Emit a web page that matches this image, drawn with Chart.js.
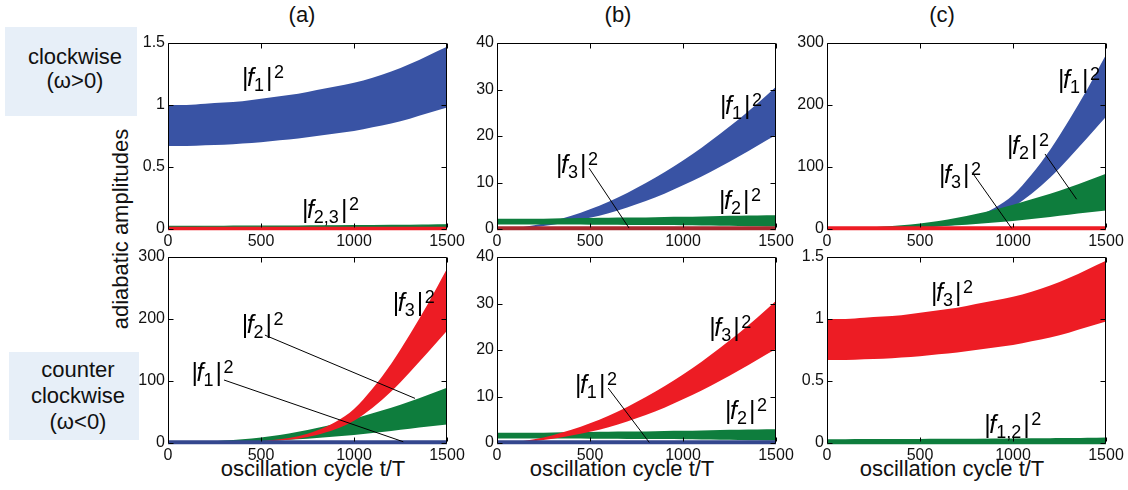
<!DOCTYPE html>
<html>
<head>
<meta charset="utf-8">
<script src="https://cdn.jsdelivr.net/npm/chart.js@4.4.1/dist/chart.umd.min.js"></script>
<style>
  html, body { margin: 0; padding: 0; background: #fff; }
  body { width: 1128px; height: 490px; position: relative; overflow: hidden;
         font-family: "Liberation Sans", Arial, Helvetica, sans-serif; color: #111; }
  canvas { position: absolute; }
  .title { position: absolute; font-size: 22px; line-height: 22px; transform: translateX(-50%); white-space: nowrap; }
  .box { position: absolute; background: #e7eff8; font-size: 22px; text-align: center; box-sizing: border-box; }
  .xlab { position: absolute; font-size: 22px; line-height: 22px; transform: translateX(-50%); white-space: nowrap; }
  .ylab { position: absolute; font-size: 22px; line-height: 25px; white-space: nowrap;
          transform: translate(-50%, -50%) rotate(-90deg); }
</style>
</head>
<body>
<div class="title" style="left:302px; top:4px">(a)</div>
<div class="title" style="left:618px; top:4px">(b)</div>
<div class="title" style="left:942px; top:4px">(c)</div>

<div class="box" style="left:5px; top:27px; width:132px; height:89px; padding:18px 0 0 8px; line-height:24px">clockwise<br>(ω&gt;0)</div>
<div class="box" style="left:9px; top:352px; width:130px; height:88px; padding:5px 0 0 8px; line-height:26px">counter<br>clockwise<br>(ω&lt;0)</div>

<div class="ylab" style="left:120px; top:229px">adiabatic amplitudes</div>

<div class="xlab" style="left:313px; top:458px">oscillation cycle t/T</div>
<div class="xlab" style="left:622px; top:458px">oscillation cycle t/T</div>
<div class="xlab" style="left:952px; top:458px">oscillation cycle t/T</div>

<script>
// sample times (oscillation cycles)
const tCycles = [0, 100, 200, 300, 400, 500, 600, 700, 800, 900, 1000, 1100, 1200, 1300, 1400, 1500];

// slowly growing band (|f1|^2 in a-top, |f3|^2 in c-bottom)
const slowHi = [1.0, 1.0, 1.01, 1.02, 1.03, 1.05, 1.07, 1.09, 1.12, 1.15, 1.18, 1.22, 1.27, 1.33, 1.40, 1.47];
const slowLo = [0.67, 0.67, 0.675, 0.68, 0.69, 0.70, 0.715, 0.73, 0.75, 0.77, 0.79, 0.82, 0.85, 0.89, 0.935, 0.98];
// tiny bands on the floor of the 1.5-scale panels
const smallHi = [0.021, 0.021, 0.022, 0.022, 0.023, 0.023, 0.024, 0.024, 0.025, 0.026, 0.027, 0.028, 0.029, 0.030, 0.032, 0.034];
const smallLo = [0.013, 0.013, 0.013, 0.013, 0.013, 0.013, 0.013, 0.013, 0.013, 0.013, 0.013, 0.013, 0.013, 0.013, 0.013, 0.013];
const floorSmall = [0.008, 0.008, 0.008, 0.008, 0.008, 0.008, 0.008, 0.008, 0.008, 0.008, 0.008, 0.008, 0.008, 0.008, 0.008, 0.008];
const zeros = [0, 0, 0, 0, 0, 0, 0, 0, 0, 0, 0, 0, 0, 0, 0, 0];

// medium growth (40-scale panels)
const midHi = [0, 0.23, 0.81, 1.69, 2.84, 4.23, 5.88, 7.76, 9.87, 12.2, 14.75, 17.5, 20.5, 23.6, 27.0, 30.6];
const midLo = [0, 0.1, 0.4, 0.9, 1.6, 2.4, 3.4, 4.6, 6.0, 7.6, 9.4, 11.3, 13.4, 15.6, 17.9, 20.2];
const flatHi = [2.2, 2.2, 2.2, 2.25, 2.3, 2.35, 2.4, 2.45, 2.5, 2.6, 2.65, 2.7, 2.8, 2.85, 2.9, 2.95];
const flatLo = [0.95, 0.95, 0.95, 0.95, 0.95, 0.93, 0.9, 0.88, 0.86, 0.84, 0.8, 0.76, 0.72, 0.67, 0.61, 0.55];
const floorMid = [0.3, 0.3, 0.3, 0.3, 0.3, 0.3, 0.3, 0.3, 0.3, 0.3, 0.3, 0.3, 0.3, 0.3, 0.3, 0.3];

// fast growth (300-scale panels)
const fastHi = [0, 0.1, 0.3, 0.7, 1.5, 3, 6, 11, 20, 34, 55, 88, 128, 175, 226, 281];
const fastLo = [0, 0.05, 0.2, 0.45, 1, 2, 4, 7, 13, 22, 36, 57, 83, 114, 147, 181];
const growHi = [0.5, 1, 2, 4, 6, 9, 13, 18, 24, 31, 39, 48, 57, 67, 78, 89];
const growLo = [0.2, 0.4, 0.7, 1.3, 2, 3, 4.5, 6, 8, 10.5, 13, 16, 19.5, 23, 26.5, 30];
const floorFast = [2.5, 2.5, 2.5, 2.5, 2.5, 2.5, 2.5, 2.5, 2.5, 2.5, 2.5, 2.5, 2.5, 2.5, 2.5, 2.5];

// tick values
const xTicks = [0, 500, 1000, 1500];
const yTicksSmall = [0, 0.5, 1, 1.5];
const yTicksMid = [0, 10, 20, 30, 40];
const yTicksFast = [0, 100, 200, 300];

const BLUE = "#3953a4", GREEN = "#0e7d3d", RED = "#ed1c24", DARKRED = "#a8292e", NAVY = "#34478e";
const FONT = '"Liberation Sans", Arial, Helvetica, sans-serif';

Chart.defaults.font.family = FONT;
Chart.defaults.font.size = 16;
Chart.defaults.color = "#111";

// geometry of the plot boxes
const colLeft = [168, 497, 827];
const rowTop = [43, 257];
const PW = 279, PH = 186;
const PADL = 45, PADT = 12, PADR = 20, PADB = 30;

function band(lo, hi, color, edge) {
  const pts = arr => tCycles.map((t, i) => ({ x: t, y: arr[i] }));
  const common = {
    pointRadius: 0, pointHoverRadius: 0,
    cubicInterpolationMode: "monotone",
    borderColor: color, borderWidth: edge || 0,
    clip: edge ? { left: 0, top: 0, right: 0, bottom: 4 } : 0,
  };
  return [
    { ...common, data: pts(hi), fill: "+1", backgroundColor: color },
    { ...common, data: pts(lo), fill: false },
  ];
}

const panels = [
  { col: 0, row: 0, yMax: 1.5, yTicks: yTicksSmall,
    bands: [[zeros, floorSmall, RED, 2.5], [smallLo, smallHi, GREEN, 1.2], [slowLo, slowHi, BLUE]],
    notes: [{ t: 398, v: 1.153, sub: "1" }, { t: 720, v: 0.089, sub: "2,3" }] },
  { col: 1, row: 0, yMax: 40, yTicks: yTicksMid,
    bands: [[zeros, floorMid, DARKRED, 2.5], [flatLo, flatHi, GREEN], [midLo, midHi, BLUE]],
    notes: [{ t: 1199, v: 24.7, sub: "1" }, { t: 317, v: 12.0, sub: "3", line: [495, 13.1, 710, 0.2] },
            { t: 1194, v: 4.3, sub: "2" }] },
  { col: 2, row: 0, yMax: 300, yTicks: yTicksFast,
    bands: [[zeros, floorFast, RED, 2.5], [growLo, growHi, GREEN], [fastLo, fastHi, BLUE]],
    notes: [{ t: 1242, v: 227, sub: "1" }, { t: 968, v: 121, sub: "2", line: [1172, 121, 1342, 48] },
            { t: 602, v: 74, sub: "3", line: [781, 91, 993, 1] }] },
  { col: 0, row: 1, yMax: 300, yTicks: yTicksFast,
    bands: [[zeros, floorFast, NAVY, 2.5], [fastLo, fastHi, RED], [growLo, growHi, GREEN]],
    notes: [{ t: 1208, v: 213, sub: "3" }, { t: 396, v: 177, sub: "2", line: [521, 174, 1328, 72] },
            { t: 127, v: 100, sub: "1", line: [301, 101.6, 1265, 2] }] },
  { col: 1, row: 1, yMax: 40, yTicks: yTicksMid,
    bands: [[zeros, floorMid, NAVY, 2.5], [midLo, midHi, RED], [flatLo, flatHi, GREEN]],
    notes: [{ t: 1141, v: 23.0, sub: "3" }, { t: 419, v: 10.75, sub: "1", line: [598, 11.8, 819, 0.1] },
            { t: 1226, v: 5.2, sub: "2" }] },
  { col: 2, row: 1, yMax: 1.5, yTicks: yTicksSmall,
    bands: [[zeros, smallHi, GREEN, 2.5], [slowLo, slowHi, RED]],
    notes: [{ t: 559, v: 1.145, sub: "3" }, { t: 846, v: 0.081, sub: "1,2" }] },
];

function drawAmp(ctx, x, y, sub) {
  ctx.fillStyle = "#000";
  ctx.textBaseline = "alphabetic";
  ctx.textAlign = "left";
  ctx.font = `25px ${FONT}`;
  ctx.fillText("|", x, y);
  x += ctx.measureText("|").width - 1.5;
  ctx.font = `italic 25px ${FONT}`;
  ctx.fillText("f", x, y);
  x += ctx.measureText("f").width;
  ctx.font = `18px ${FONT}`;
  ctx.fillText(sub, x, y + 5);
  x += ctx.measureText(sub).width + 2;
  ctx.font = `25px ${FONT}`;
  ctx.fillText("|", x, y);
  x += ctx.measureText("|").width + 1.5;
  ctx.font = `18px ${FONT}`;
  ctx.fillText("2", x, y - 8);
}

function framePlugin(notes) {
  const edges = chart => {
    const a = chart.chartArea;
    return {
      L: Math.round(a.left) + 0.5, R: Math.round(a.right) - 0.5,
      T: Math.round(a.top) + 0.5, B: Math.round(a.bottom) - 0.5,
    };
  };
  return {
    id: "frame",
    // bottom axis sits under the data, as in the original figure
    beforeDatasetsDraw(chart) {
      const { ctx } = chart;
      const { L, R, B } = edges(chart);
      ctx.save();
      ctx.strokeStyle = "#000";
      ctx.lineWidth = 1;
      ctx.beginPath();
      ctx.moveTo(L, B); ctx.lineTo(R, B);
      ctx.stroke();
      ctx.restore();
    },
    afterDatasetsDraw(chart) {
      const { ctx } = chart;
      const xs = chart.scales.x, ys = chart.scales.y;
      const { L, R, T, B } = edges(chart);
      ctx.save();
      ctx.strokeStyle = "#000";
      ctx.lineWidth = 1;
      ctx.beginPath();
      ctx.moveTo(L, B + 0.5); ctx.lineTo(L, T); ctx.lineTo(R, T); ctx.lineTo(R, B + 0.5);
      xs.ticks.forEach(tk => {
        const px = Math.round(xs.getPixelForValue(tk.value)) + 0.5;
        ctx.moveTo(px, B - 1); ctx.lineTo(px, B - 5);
        ctx.moveTo(px, T); ctx.lineTo(px, T + 5);
      });
      ys.ticks.forEach(tk => {
        const py = Math.round(ys.getPixelForValue(tk.value)) + 0.5;
        ctx.moveTo(L, py); ctx.lineTo(L + 5, py);
        ctx.moveTo(R, py); ctx.lineTo(R - 5, py);
      });
      ctx.stroke();

      ctx.beginPath();
      notes.forEach(n => {
        if (!n.line) return;
        const [t1, v1, t2, v2] = n.line;
        ctx.moveTo(xs.getPixelForValue(t1), ys.getPixelForValue(v1));
        ctx.lineTo(xs.getPixelForValue(t2), ys.getPixelForValue(v2));
      });
      ctx.stroke();

      notes.forEach(n => drawAmp(ctx, xs.getPixelForValue(n.t), ys.getPixelForValue(n.v), n.sub));
      ctx.restore();
    },
  };
}

panels.forEach(p => {
  const cv = document.createElement("canvas");
  cv.width = PW + PADL + PADR;
  cv.height = PH + PADT + PADB;
  cv.style.left = (colLeft[p.col] - PADL) + "px";
  cv.style.top = (rowTop[p.row] - PADT) + "px";
  document.body.appendChild(cv);

  const datasets = [];
  p.bands.forEach(([lo, hi, color, edge]) => datasets.push(...band(lo, hi, color, edge)));

  new Chart(cv, {
    type: "line",
    data: { datasets },
    options: {
      responsive: false,
      animation: false,
      events: [],
      layout: { padding: { left: 0, top: PADT, right: PADR, bottom: 0 } },
      plugins: { legend: { display: false }, tooltip: { enabled: false } },
      scales: {
        x: {
          type: "linear", min: 0, max: 1500,
          grid: { display: false, drawTicks: false },
          border: { display: false },
          afterBuildTicks(s) { s.ticks = xTicks.map(v => ({ value: v })); },
          afterFit(s) { s.height = PADB; s.paddingLeft = 0; s.paddingRight = 0; },
          ticks: { autoSkip: false, maxRotation: 0, padding: 3, callback: v => String(v) },
        },
        y: {
          type: "linear", min: 0, max: p.yMax,
          grid: { display: false, drawTicks: false },
          border: { display: false },
          afterBuildTicks(s) { s.ticks = p.yTicks.map(v => ({ value: v })); },
          afterFit(s) { s.width = PADL; s.paddingTop = 0; s.paddingBottom = 0; },
          ticks: { autoSkip: false, padding: 3, callback: v => String(v) },
        },
      },
    },
    plugins: [framePlugin(p.notes)],
  });
});
</script>
</body>
</html>
